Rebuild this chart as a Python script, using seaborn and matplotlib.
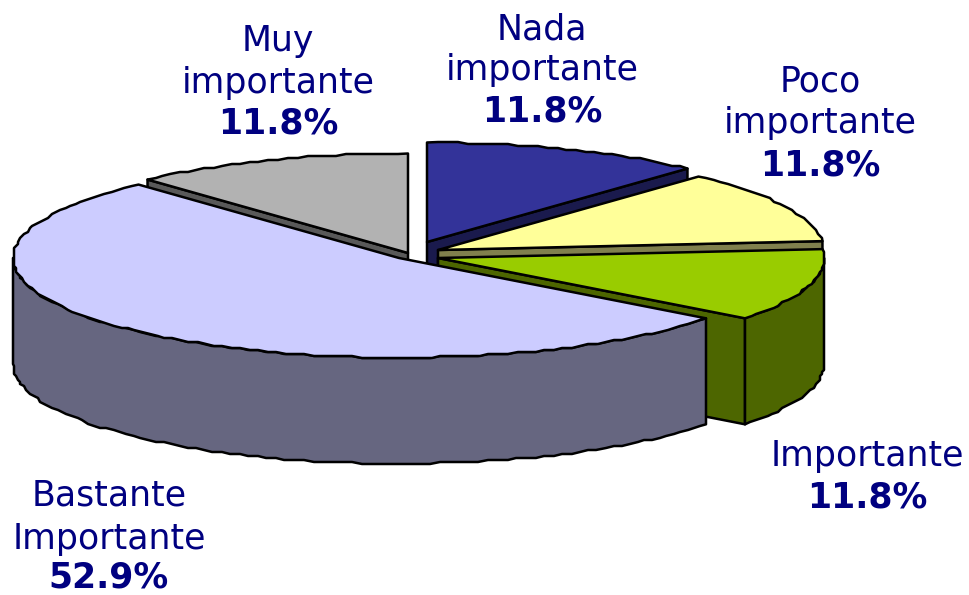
"""
Exploded 3D style pie chart, drawn on a seaborn styled axes
"""
import numpy as np
import matplotlib
matplotlib.use('Agg')
import matplotlib.pyplot as plt
from matplotlib.patches import Polygon
import seaborn as sns

categories = ['Nada\nimportante', 'Poco\nimportante', 'Importante',
              'Bastante\nImportante', 'Muy\nimportante']
values = [11.8, 11.8, 11.8, 52.9, 11.8]

# style and layout, in pixels of the output picture
colors = ['#333399', '#FFFF99', '#99CC00', '#CCCCFF', '#B2B2B2']
centers = [(427, 242), (438, 250), (438, 258), (399, 258), (408, 253)]
label_x = [542, 820, 867, 109, 278]
label_y = [[29, 70, 112], [82, 123, 166], [456, 498], [496, 539, 577], [41, 83, 124]]
draw_order = [4, 0, 1, 2, 3]
RX, RY, DEPTH = 386, 99.5, 106
JAG = 2.0
NAVY = '#000080'

sns.set_theme(style='white')
palette = sns.color_palette(colors)
plt.rcParams['font.family'] = ['DejaVu Sans']

fig, ax = plt.subplots(figsize=(9.7, 5.95), dpi=100)
ax.set_position([0, 0, 1, 1])
ax.set_xlim(0, 970)
ax.set_ylim(595, 0)
ax.axis('off')

# slice angles, clockwise from the top of the pie
edges = np.deg2rad(np.cumsum([0] + values) / np.sum(values) * 360)


def arc(center, a, b):
    # points on the rim, snapped to a grid for the rough low-res outline
    t = np.linspace(a, b, max(int((b - a) * 40), 2))
    x = center[0] + RX * np.sin(t)
    y = center[1] - RY * np.cos(t)
    if len(t) > 2:
        x[1:-1] = np.round(x[1:-1] / JAG) * JAG
        y[1:-1] = np.round(y[1:-1] / JAG) * JAG
    return np.column_stack([x, y])


def face(points, color, z):
    ax.add_patch(Polygon(points, closed=True, facecolor=color, edgecolor='black',
                         linewidth=1.8, joinstyle='round', zorder=z))


for z, i in enumerate(draw_order):
    a, b = edges[i], edges[i + 1]
    c = np.array(centers[i], dtype=float)
    top = palette[i]
    wall = tuple(0.5 * np.array(top))
    down = np.array([0, DEPTH])

    # radial cut faces that look toward the viewer
    for angle, visible in ((a, np.sin(a) < -1e-6), (b, np.sin(b) > 1e-6)):
        if visible:
            rim = c + [RX * np.sin(angle), -RY * np.cos(angle)]
            face([c, rim, rim + down, c + down], wall, z * 10 + 1)

    # outer wall, only the front half of the rim shows
    lo, hi = max(a, np.pi / 2), min(b, 3 * np.pi / 2)
    if hi > lo:
        rim = arc(c, lo, hi)
        face(np.vstack([rim, rim[::-1] + down]), wall, z * 10 + 2)

    # top surface
    face(np.vstack([c, arc(c, a, b)]), top, z * 10 + 3)

for i, name in enumerate(categories):
    lines = name.split('\n') + [f'{values[i]:.1f}%']
    for j, line in enumerate(lines):
        bold = j == len(lines) - 1
        ax.text(label_x[i], label_y[i][j], line, color=NAVY, fontsize=25,
                fontweight='bold' if bold else 'normal',
                ha='center', va='center', zorder=100)

fig.savefig('out.png', dpi=100)
